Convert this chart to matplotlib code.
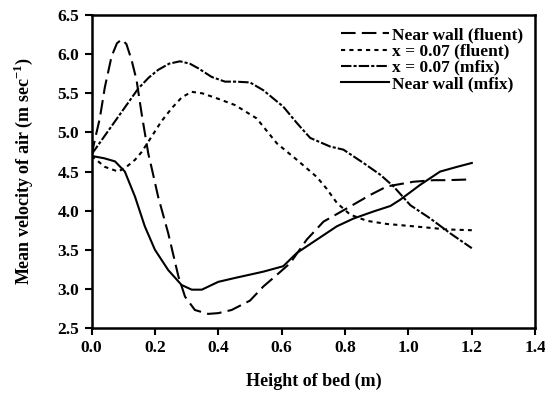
import matplotlib
matplotlib.use('Agg')
import matplotlib.pyplot as plt

plt.rcParams['font.family'] = 'Liberation Serif'
plt.rcParams['font.weight'] = 'bold'
plt.rcParams['mathtext.fontset'] = 'custom'
plt.rcParams['mathtext.rm'] = 'Liberation Serif:bold'

# near wall, fluent
h_wall_fl = [0.0, 0.01, 0.026, 0.042, 0.063, 0.08, 0.095, 0.11, 0.126, 0.142, 0.158,
             0.179, 0.19, 0.21, 0.242, 0.274, 0.295, 0.326, 0.368, 0.4, 0.442,
             0.5, 0.542, 0.585, 0.627, 0.679, 0.732, 0.806, 0.879, 0.932, 1.016,
             1.08, 1.122, 1.2]
v_wall_fl = [4.71, 4.9, 5.18, 5.58, 5.97, 6.14, 6.19, 6.13, 5.93, 5.67, 5.24,
             4.73, 4.54, 4.18, 3.71, 3.16, 2.90, 2.73, 2.68, 2.69, 2.73,
             2.85, 3.03, 3.18, 3.33, 3.63, 3.86, 4.03, 4.20, 4.31, 4.37,
             4.39, 4.39, 4.40]

# x = 0.07, fluent
h_mid_fl = [0.0, 0.042, 0.084, 0.11, 0.137, 0.158, 0.19, 0.22, 0.253, 0.285, 0.316,
            0.35, 0.4, 0.453, 0.521, 0.585, 0.648, 0.711, 0.742, 0.774, 0.816,
            0.869, 0.932, 1.016, 1.122, 1.2]
v_mid_fl = [4.70, 4.56, 4.50, 4.56, 4.65, 4.75, 4.95, 5.14, 5.31, 5.45, 5.52,
            5.50, 5.43, 5.35, 5.18, 4.86, 4.65, 4.43, 4.28, 4.10, 3.95,
            3.87, 3.83, 3.80, 3.76, 3.75]

# x = 0.07, mfix
h_mid_mf = [0.0, 0.147, 0.18, 0.21, 0.245, 0.279, 0.31, 0.337, 0.379, 0.421, 0.453,
            0.5, 0.542, 0.605, 0.648, 0.69, 0.753, 0.795, 0.858, 0.911, 0.953,
            1.006, 1.069, 1.132, 1.2]
v_mid_mf = [4.72, 5.56, 5.70, 5.80, 5.88, 5.91, 5.88, 5.82, 5.71, 5.65, 5.65,
            5.64, 5.54, 5.33, 5.12, 4.93, 4.82, 4.78, 4.61, 4.46, 4.31,
            4.07, 3.90, 3.71, 3.52]

# near wall, mfix
h_wall_mf = [0.0, 0.04, 0.074, 0.105, 0.137, 0.168, 0.2, 0.242, 0.284, 0.316, 0.348,
             0.4, 0.453, 0.542, 0.605, 0.648, 0.711, 0.774, 0.827, 0.89, 0.943,
             0.974, 1.037, 1.1, 1.153, 1.2]
v_wall_mf = [4.70, 4.67, 4.63, 4.50, 4.18, 3.80, 3.50, 3.24, 3.05, 2.99, 2.99,
             3.09, 3.14, 3.22, 3.29, 3.46, 3.63, 3.80, 3.90, 3.99, 4.06,
             4.14, 4.33, 4.50, 4.56, 4.61]

fig = plt.figure(figsize=(5.45, 3.99), dpi=100)
ax = fig.add_axes([0.168, 0.178, 0.814, 0.784])

lw = 1.5
ax.plot(h_wall_fl, v_wall_fl, 'k', lw=lw, linestyle=(0, (7, 3)), label='Near wall (fluent)')
ax.plot(h_mid_fl, v_mid_fl, 'k', lw=lw, linestyle=(0, (2, 2)), label='x = 0.07 (fluent)')
ax.plot(h_mid_mf, v_mid_mf, 'k', lw=lw, linestyle=(0, (5, 1, 1.5, 1)), label='x = 0.07 (mfix)')
ax.plot(h_wall_mf, v_wall_mf, 'k', lw=lw, linestyle='-', label='Near wall (mfix)')

ax.set_xlim(0, 1.4)
ax.set_ylim(2.5, 6.5)
ax.set_xticks([0.0, 0.2, 0.4, 0.6, 0.8, 1.0, 1.2, 1.4])
ax.set_yticks([2.5, 3.0, 3.5, 4.0, 4.5, 5.0, 5.5, 6.0, 6.5])
ax.xaxis.set_major_formatter(matplotlib.ticker.FormatStrFormatter('%.1f'))
ax.yaxis.set_major_formatter(matplotlib.ticker.FormatStrFormatter('%.1f'))
ax.tick_params(direction='out', length=5, width=1.5, labelsize=12.5, pad=4)
for s in ax.spines.values():
    s.set_linewidth(1.8)

ax.set_xlabel('Height of bed (m)', fontsize=13, fontweight='bold', labelpad=12)
ax.set_ylabel('Mean velocity of air (m sec$^{-1}$)', fontsize=13, fontweight='bold', labelpad=16)

ax.legend(loc='upper right', frameon=False, handlelength=2.8,
          handletextpad=0.15, labelspacing=0.0, borderaxespad=0.3,
          prop={'weight': 'bold', 'size': 12.5})

fig.savefig('out.png', dpi=100)
